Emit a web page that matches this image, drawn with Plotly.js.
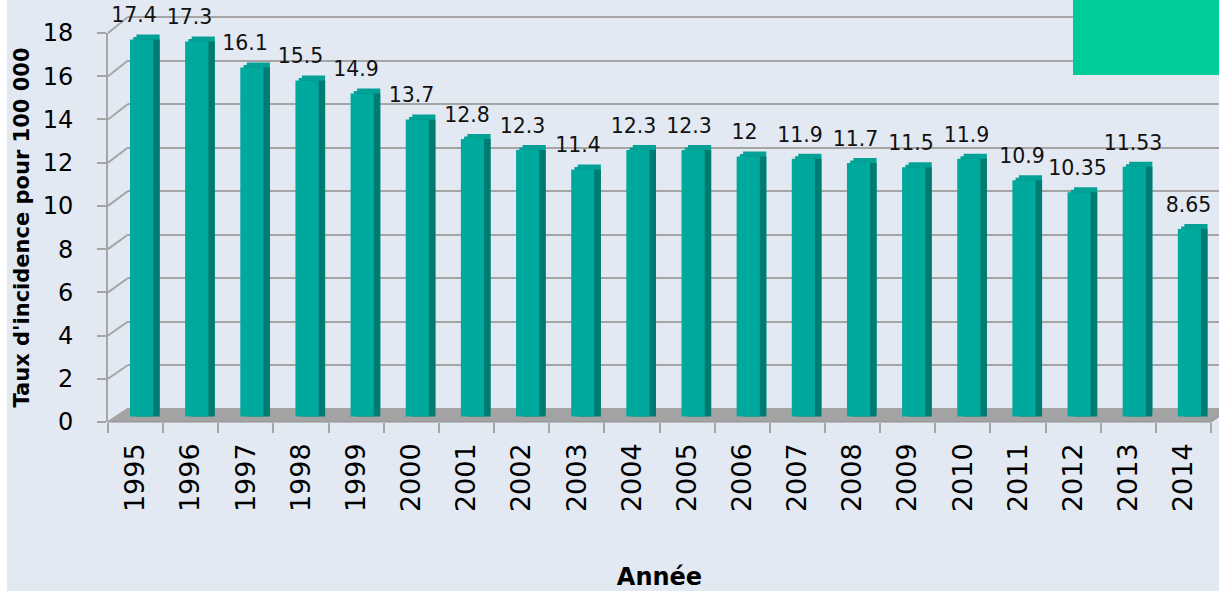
<!DOCTYPE html>
<html><head><meta charset="utf-8">
<script src="https://cdn.plot.ly/plotly-3.0.1.min.js"></script>
<style>
html,body{margin:0;padding:0;background:#ffffff;overflow:hidden;}
#chart{position:absolute;left:7px;top:0;width:1212px;height:591px;}
</style></head><body><div id="chart"></div>
<script>
// ---------- data ----------
const years = ['1995','1996','1997','1998','1999','2000','2001','2002','2003','2004','2005','2006','2007','2008','2009','2010','2011','2012','2013','2014'];
const rates = [17.4,17.3,16.1,15.5,14.9,13.7,12.8,12.3,11.4,12.3,12.3,12,11.9,11.7,11.5,11.9,10.9,10.35,11.53,8.65];
const rateLabels = ['17.4','17.3','16.1','15.5','14.9','13.7','12.8','12.3','11.4','12.3','12.3','12','11.9','11.7','11.5','11.9','10.9','10.35','11.53','8.65'];
const yTickVals = [0,2,4,6,8,10,12,14,16,18];
const yTitle = "Taux d'incidence pour 100 000";
const xTitle = "Année";

// ---------- geometry (page pixels) ----------
const DIVL = 7, DIVW = 1212, DIVH = 591;
const PL = 108, PR = DIVL + DIVW, PT = 0, PB = 440;
const PW = PR - PL, PH = PB - PT;
const nCat = years.length;
const FRONT_L = 108, FRONT_R = 1211;
const catW = (FRONT_R - FRONT_L) / nCat;
const frontZero = 422, frontTop = 33;
const backZero = 408.5, backTop = 17, backL = 128;
const backScale = (backZero - backTop) / 18;
const frontScale = (frontZero - frontTop) / 18;
const barZero = 416.5, barScale = 21.67;
const barShift = 6, depthX = 6.5, depthY = 5;
const fx = p => (p - PL) / PW, fy = p => (PB - p) / PH;
function xRange(shift){ const c0 = FRONT_L + catW/2 + shift; const L = -(c0 - PL)/catW; return [L, L + PW/catW]; }
function xRangeScaled(c0, w){ return [(PL - c0)/w, (PR - c0)/w]; }
function yRange(zero, scale){ return [-(PB - zero)/scale, (zero - PT)/scale]; }

const FRONT = '#00a99d', TOP = '#04a296', SIDE = '#007b72';
const GRID = '#a5a5a5';

const traces = [
  // carriers for the front axes and the back wall grid (invisible)
  {type:'scatter', mode:'markers', x:years, y:rates, xaxis:'x', yaxis:'y', marker:{opacity:0, size:1}, hoverinfo:'skip'},
  {type:'scatter', mode:'markers', x:[0.5], y:[rates[0]], xaxis:'x2', yaxis:'y2', marker:{opacity:0, size:1}, hoverinfo:'skip'},
  {type:'bar', x:years, y:rates, xaxis:'x3', yaxis:'y3', marker:{color:TOP}, hoverinfo:'skip'},
  {type:'bar', x:years, y:rates, xaxis:'x4', yaxis:'y4', marker:{color:TOP}, hoverinfo:'skip'},
  {type:'bar', x:years, y:rates, xaxis:'x5', yaxis:'y5', marker:{color:SIDE}, hoverinfo:'skip'},
  {type:'bar', x:years, y:rates, xaxis:'x6', yaxis:'y6', marker:{color:FRONT}},
  {type:'scatter', mode:'text', x:years, y:rates, text:rateLabels, textposition:'top center',
   xaxis:'x7', yaxis:'y7', textfont:{family:'DejaVu Sans', size:20.5, color:'#111111'}, hoverinfo:'skip'}
];

const hidden = {visible:false, fixedrange:true};
const catX = r => Object.assign({type:'category', range:r, categoryorder:'array', categoryarray:years}, hidden);

const shapes = [];
// floor
shapes.push({type:'path', xref:'paper', yref:'paper', layer:'below',
  path:`M ${fx(FRONT_L)} ${fy(frontZero)} L ${fx(FRONT_R)} ${fy(frontZero)} L ${fx(FRONT_R+20)} ${fy(backZero)} L ${fx(backL)} ${fy(backZero)} Z`,
  fillcolor:'#a3a3a3', line:{color:'#8f8f8f', width:1}});
// left wall lines
yTickVals.forEach(v => {
  shapes.push({type:'line', xref:'paper', yref:'paper', layer:'below',
    x0:fx(FRONT_L), y0:fy(frontZero - v*frontScale), x1:fx(backL), y1:fy(backZero - v*backScale),
    line:{color:GRID, width:2}});
});
// green block top right
shapes.push({type:'rect', xref:'paper', yref:'paper', layer:'above',
  x0:fx(1073), x1:fx(1225), y0:fy(75), y1:fy(-5), fillcolor:'#00cc99', line:{width:0}});

const layout = {
  width:DIVW, height:DIVH,
  margin:{l:PL-DIVL, r:0, t:PT, b:DIVH-PB, pad:0},
  paper_bgcolor:'#e2e9f3', plot_bgcolor:'rgba(0,0,0,0)',
  showlegend:false, bargap:0.58,
  font:{family:'DejaVu Sans', color:'#000000'},
  xaxis:{domain:[0, fx(FRONT_R)], type:'category', range:[-0.5, nCat-0.5], anchor:'y',
    categoryorder:'array', categoryarray:years,
    tickson:'boundaries', ticks:'outside', ticklen:10, tickwidth:2, tickcolor:GRID,
    tickangle:-90, tickfont:{family:'DejaVu Sans', size:27, color:'#000'}, ticklabelstandoff:15,
    showgrid:false, showline:false, zeroline:false,
    title:{text:xTitle, font:{family:'DejaVu Sans', size:24, weight:700, color:'#000'}, standoff:58},
    automargin:false, fixedrange:true},
  yaxis:{domain:[fy(frontZero), fy(frontTop)], range:[0,18], anchor:'x',
    tickmode:'array', tickvals:yTickVals, ticktext:yTickVals.map(String),
    ticks:'outside', ticklen:9, tickwidth:2, tickcolor:GRID, ticklabelstandoff:19,
    tickfont:{family:'DejaVu Sans', size:24, color:'#000'},
    showline:true, linecolor:GRID, linewidth:2, showgrid:false, zeroline:false,
    title:{text:yTitle, font:{family:'DejaVu Sans', size:21, weight:700, color:'#000'}, standoff:7},
    automargin:false, fixedrange:true},
  xaxis2:{domain:[fx(backL), 1], range:[0,1], anchor:'y2', visible:false, fixedrange:true},
  yaxis2:{domain:[0,1], range:yRange(backZero, backScale), anchor:'x2',
    tickmode:'array', tickvals:yTickVals, showticklabels:false, ticks:'',
    showgrid:true, gridcolor:GRID, gridwidth:2, zeroline:false, showline:false, fixedrange:true},
  xaxis3:Object.assign(catX(xRange(barShift+depthX)), {domain:[0,1], anchor:'y3'}),
  yaxis3:Object.assign({domain:[0,1], range:yRange(barZero-depthY, barScale), anchor:'x3'}, hidden),
  xaxis4:Object.assign(catX(xRange(barShift+depthX/2)), {overlaying:'x3', anchor:'y4'}),
  yaxis4:Object.assign({range:yRange(barZero-depthY/2, barScale), overlaying:'y3', anchor:'x4'}, hidden),
  xaxis5:Object.assign(catX(xRange(barShift+depthX)), {overlaying:'x3', anchor:'y5'}),
  yaxis5:Object.assign({range:yRange(barZero, barScale), overlaying:'y3', anchor:'x5'}, hidden),
  xaxis6:Object.assign(catX(xRange(barShift)), {overlaying:'x3', anchor:'y6'}),
  yaxis6:Object.assign({range:yRange(barZero, barScale), overlaying:'y3', anchor:'x6'}, hidden),
  xaxis7:Object.assign(catX(xRangeScaled(134, 55.5)), {overlaying:'x3', anchor:'y7'}),
  yaxis7:Object.assign({range:yRange(barZero-depthY-7, barScale), overlaying:'y3', anchor:'x7'}, hidden),
  shapes:shapes
};

Plotly.newPlot('chart', traces, layout, {displayModeBar:false, staticPlot:true});
</script></body></html>
